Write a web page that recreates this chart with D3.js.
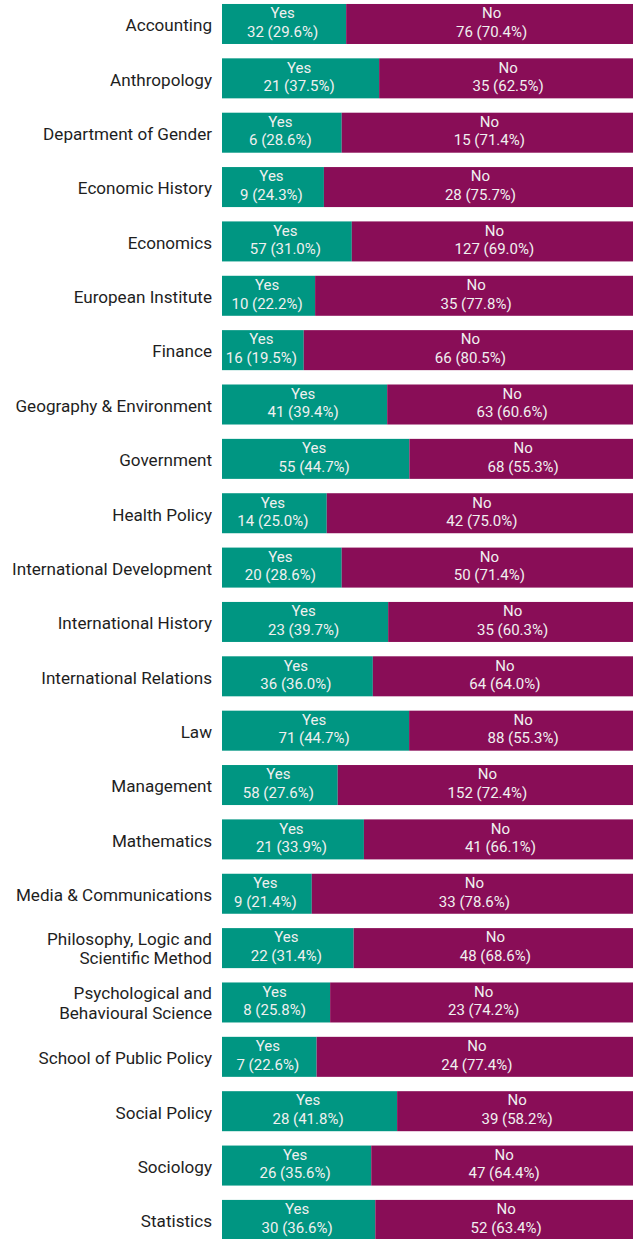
<!DOCTYPE html>
<html>
<head>
<meta charset="utf-8">
<script src="https://cdn.jsdelivr.net/npm/d3@7"></script>
<style>
  body { margin: 0; background: #fff; overflow: hidden; }
  svg { display: block; font-family: Roboto, sans-serif; }
</style>
</head>
<body>
<svg id="ctner"></svg>
<script>
const departments = [
  "Accounting", "Anthropology", "Department of Gender", "Economic History",
  "Economics", "European Institute", "Finance", "Geography & Environment",
  "Government", "Health Policy", "International Development",
  "International History", "International Relations", "Law", "Management",
  "Mathematics", "Media & Communications",
  "Philosophy, Logic and\nScientific Method",
  "Psychological and\nBehavioural Science",
  "School of Public Policy", "Social Policy", "Sociology", "Statistics"
];
const yesCounts = [32, 21, 6, 9, 57, 10, 16, 41, 55, 14, 20, 23, 36, 71, 58, 21, 9, 22, 8, 7, 28, 26, 30];
const noCounts = [76, 35, 15, 28, 127, 35, 66, 63, 68, 42, 50, 35, 64, 88, 152, 41, 33, 48, 23, 24, 39, 47, 52];
const answers = ["Yes", "No"];

main();

function main() {
  const width = 633;
  const height = 1239;
  // the bars run a little past the right edge of the window and get clipped
  const barLeft = 222, barRight = 641;
  const svg = d3.select("#ctner").attr("width", width).attr("height", height);

  /* data manipulation */
  const rows = departments.map((name, i) => {
    const total = yesCounts[i] + noCounts[i];
    return { name, counts: [yesCounts[i], noCounts[i]], total };
  });

  /* scales */
  const x = d3.scaleLinear().domain([0, 1]).range([barLeft, barRight]);
  const y = d3.scaleBand()
    .domain(departments)
    .range([-3.2, 1247.1])
    .paddingInner(0.264)
    .paddingOuter(0.132);
  const color = d3.scaleOrdinal().domain(answers).range(["#009682", "#890d57"]);

  /* segments */
  const segs = rows.flatMap((r) => {
    let acc = 0;
    return r.counts.map((c, j) => {
      const s = { name: r.name, key: answers[j], count: c, share: c / r.total, x0: acc };
      acc += c / r.total;
      s.x1 = acc;
      return s;
    });
  });

  const g = svg.append("g");
  g.selectAll("rect")
    .data(segs)
    .join("rect")
    .attr("x", (d) => x(d.x0))
    .attr("y", (d) => y(d.name))
    .attr("width", (d) => x(d.x1) - x(d.x0))
    .attr("height", y.bandwidth())
    .attr("fill", (d) => color(d.key));

  const lab = g.selectAll("text.val")
    .data(segs)
    .join("text")
    .attr("class", "val")
    .attr("fill", "#f0f0f0")
    .attr("font-size", 15)
    .attr("text-anchor", "middle")
    .attr("transform", (d) => {
      const cx = (x(d.x0) + Math.min(x(d.x1), 637)) / 2 - (d.key === "Yes" ? 1.5 : 0);
      return `translate(${cx}, ${y(d.name)})`;
    });
  lab.append("tspan").attr("x", 0).attr("y", 14.3).text((d) => d.key);
  lab.append("tspan").attr("x", 0).attr("y", 32.8)
    .text((d) => `${d.count} (${(d.share * 100).toFixed(1)}%)`);

  /* category labels */
  const cat = g.selectAll("text.cat")
    .data(departments)
    .join("text")
    .attr("class", "cat")
    .attr("fill", "#1e1e1e")
    .attr("font-size", 17.1)
    .attr("text-anchor", "end")
    .attr("transform", (d) => `translate(212, ${y(d) + y.bandwidth() / 2})`);
  cat.each(function(d) {
    const lines = d.split("\n");
    const t = d3.select(this);
    lines.forEach((ln, i) => {
      t.append("tspan")
        .attr("x", 0)
        .attr("y", (i - (lines.length - 1) / 2) * 19.5 + (lines.length > 1 ? 6.5 : 7.3))
        .text(ln);
    });
  });
}
</script>
</body>
</html>
